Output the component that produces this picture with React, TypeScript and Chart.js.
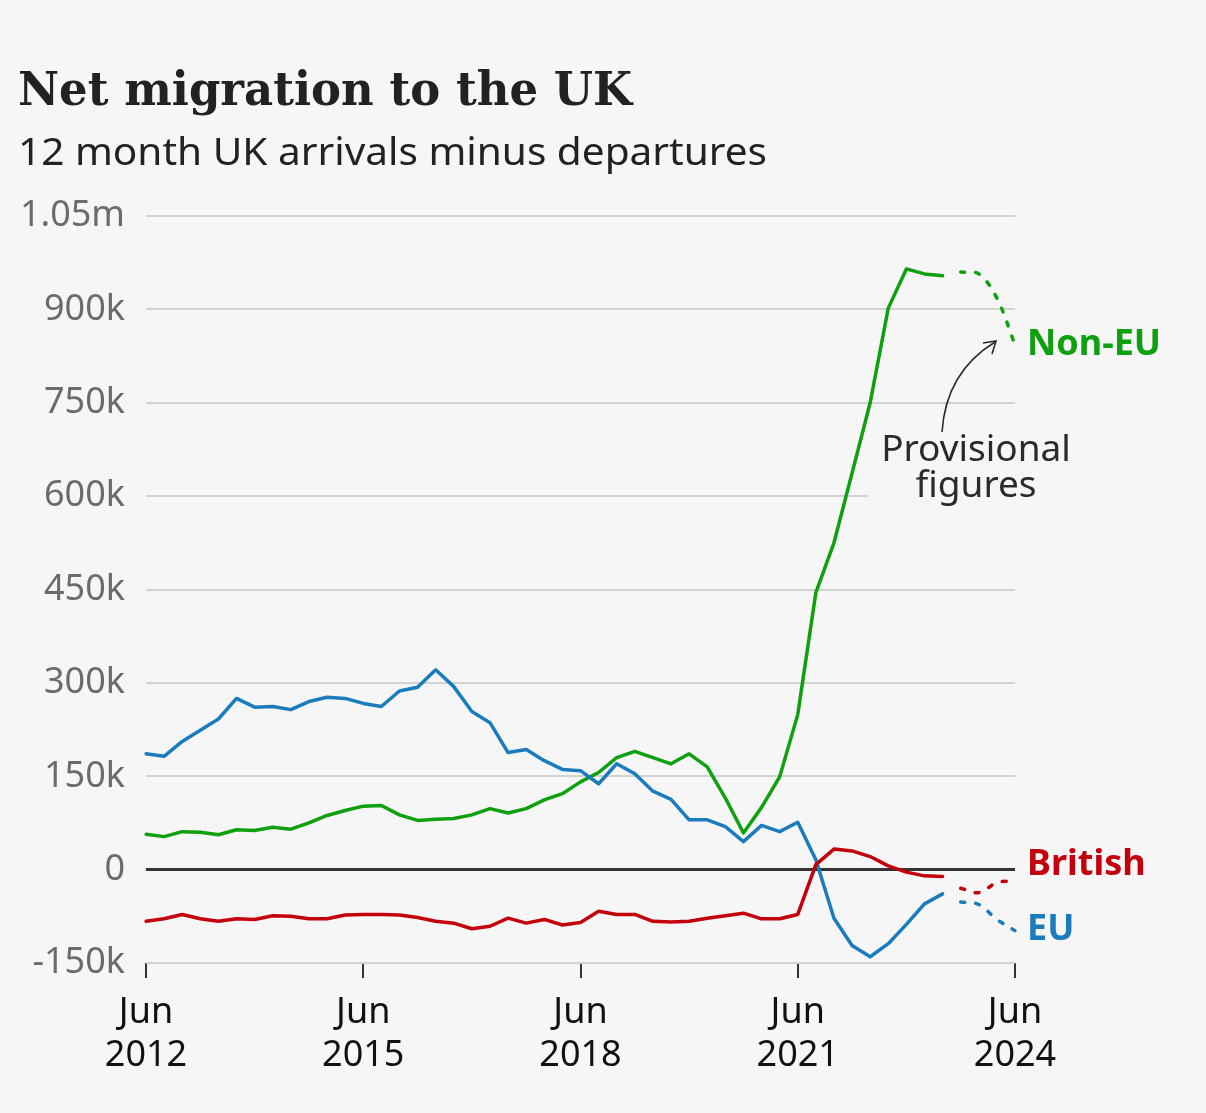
import React, { useEffect, useRef } from "react";
import { Chart, registerables } from "chart.js";

Chart.register(...registerables);

// Quarter labels (Jun 2012 .. Jun 2024)
const quarterMonths = ["Jun", "Sep", "Dec", "Mar"];
const tickYears = ["2012", "2015", "2018", "2021", "2024"];

// Net migration, thousands, quarterly Jun 2012 .. Jun 2023 (final figures)
const nonEU = [57, 53, 61, 60, 56, 64, 63, 68, 65, 75, 87, 95, 102, 103, 88, 79, 81, 82, 88, 98, 91, 98, 112, 122, 141, 156, 180, 190, 180, 170, 186, 165, 115, 59, 100, 149, 249, 445, 525, 637, 750, 902, 965, 957, 954];
const eu = [186, 182, 206, 224, 242, 275, 261, 262, 257, 270, 277, 275, 267, 262, 287, 293, 321, 294, 254, 236, 188, 193, 175, 161, 159, 138, 170, 154, 126, 113, 80, 80, 69, 45, 71, 61, 76, 16, -78, -122, -140, -119, -88, -55, -39];
const british = [-83, -79, -72, -79, -83, -79, -80, -74, -75, -79, -79, -73, -72, -72, -73, -77, -83, -86, -95, -91, -78, -86, -80, -89, -85, -67, -72, -72, -83, -84, -83, -78, -74, -70, -79, -79, -72, 8, 33, 30, 21, 6, -4, -10, -11];

// Provisional figures, Sep 2023 .. Jun 2024
const nonEUProv = [960, 957, 918, 843];
const euProv = [-52, -56, -80, -98];
const britishProv = [-30, -37, -21, -18];

const yTicks = [-150, 0, 150, 300, 450, 600, 750, 900, 1050];

const GREEN = "#0ea00e";
const BLUE = "#1a7bbd";
const RED = "#c4000c";
const BG = "#f6f6f6";

const labels: string[] = [];
{
  let year = 2012;
  for (let i = 0; i <= 48; i++) {
    const m = quarterMonths[i % 4];
    if (m === "Mar") year++;
    labels.push(m + " " + year);
  }
}

const solid = (arr: number[]) => arr.map((v) => v as number | null).concat(new Array(labels.length - arr.length).fill(null));
const prov = (arr: number[]) => new Array(labels.length - arr.length).fill(null).concat(arr);

const fmtY = (v: number) => {
  if (v === 0) return "0";
  if (Math.abs(v) >= 1000) return (v / 1000).toFixed(2) + "m";
  return v + "k";
};

const fitText = (ctx: CanvasRenderingContext2D, text: string, x: number, y: number, width: number) => {
  const w = ctx.measureText(text).width;
  ctx.save();
  ctx.translate(x, y);
  ctx.scale(width / w, 1);
  ctx.fillText(text, 0, 0);
  ctx.restore();
};

const decorPlugin = {
  id: "decor",
  beforeDatasetsDraw(chart: any) {
    const { ctx, scales } = chart;
    const y = scales.y.getPixelForValue(600);
    ctx.save();
    ctx.fillStyle = BG;
    ctx.fillRect(868, y - 4, 200, 8);
    ctx.restore();
  },
  afterDraw(chart: any) {
    const { ctx, scales } = chart;
    ctx.save();
    ctx.textBaseline = "alphabetic";
    ctx.textAlign = "left";
    ctx.fillStyle = "#222222";
    ctx.font = 'bold 47px "DejaVu Serif"';
    fitText(ctx, "Net migration to the UK", 18, 105, 614);
    ctx.font = '39px "Noto Sans"';
    fitText(ctx, "12 month UK arrivals minus departures", 18, 165, 749);

    // series labels
    ctx.font = 'bold 36px "Noto Sans"';
    ctx.textBaseline = "middle";
    ctx.fillStyle = GREEN;
    ctx.fillText("Non-EU", 1027, scales.y.getPixelForValue(843));
    ctx.fillStyle = RED;
    ctx.fillText("British", 1027, scales.y.getPixelForValue(8));
    ctx.fillStyle = BLUE;
    ctx.fillText("EU", 1027, scales.y.getPixelForValue(-96));

    // annotation
    ctx.fillStyle = "#2a2a2a";
    ctx.font = '37px "Noto Sans"';
    ctx.textAlign = "center";
    ctx.textBaseline = "alphabetic";
    ctx.fillText("Provisional", 976, 461);
    ctx.fillText("figures", 976, 497);

    ctx.strokeStyle = "#2a2a2a";
    ctx.lineWidth = 1.6;
    ctx.beginPath();
    ctx.moveTo(942, 432);
    ctx.quadraticCurveTo(946, 372, 995, 342);
    ctx.stroke();
    ctx.beginPath();
    ctx.moveTo(983, 343);
    ctx.lineTo(996, 341);
    ctx.lineTo(992, 354);
    ctx.stroke();
    ctx.restore();
  },
};

export default function App() {
  const ref = useRef<HTMLCanvasElement>(null);
  useEffect(() => {
    document.body.style.margin = "0";
    document.body.style.background = BG;
    if (!ref.current) return;
    const lineDs = (label: string, data: (number | null)[], color: string, dashed: boolean) => ({
      label,
      data,
      borderColor: color,
      backgroundColor: color,
      borderWidth: 3.5,
      pointRadius: 0,
      tension: dashed ? 0.35 : 0,
      borderDash: dashed ? [4, 11] : [],
      borderCapStyle: "round" as const,
      borderJoinStyle: "round" as const,
      spanGaps: false,
    });
    const chart = new Chart(ref.current, {
      type: "line",
      data: {
        labels,
        datasets: [
          lineDs("British", solid(british), RED, false),
          lineDs("British provisional", prov(britishProv), RED, true),
          lineDs("EU", solid(eu), BLUE, false),
          lineDs("EU provisional", prov(euProv), BLUE, true),
          lineDs("Non-EU", solid(nonEU), GREEN, false),
          lineDs("Non-EU provisional", prov(nonEUProv), GREEN, true),
        ],
      },
      options: {
        responsive: false,
        animation: false,
        devicePixelRatio: 1,
        layout: { padding: { top: 216, right: 191, bottom: 0, left: 0 } },
        plugins: { legend: { display: false }, tooltip: { enabled: false } },
        scales: {
          x: {
            type: "category",
            offset: false,
            afterFit: (s: any) => {
              s.height = 150;
            },
            border: { display: false },
            grid: {
              drawOnChartArea: false,
              drawTicks: true,
              tickLength: 15,
              color: "#333333",
              lineWidth: 2,
            },
            ticks: {
              autoSkip: false,
              maxRotation: 0,
              padding: 13,
              color: "#111111",
              font: { family: "Noto Sans", size: 36, lineHeight: 1.2 },
              callback: (_v: any, i: number) => (i % 12 === 0 ? ["Jun", tickYears[i / 12]] : null),
            },
          },
          y: {
            min: -150,
            max: 1050,
            afterFit: (s: any) => {
              s.width = 146;
            },
            afterBuildTicks: (s: any) => {
              s.ticks = yTicks.map((v) => ({ value: v }));
            },
            border: { display: false },
            grid: {
              drawTicks: false,
              color: (c: any) => (c.tick && c.tick.value === 0 ? "#333333" : "#d2d2d2"),
              lineWidth: (c: any) => (c.tick && c.tick.value === 0 ? 3 : 2),
            },
            ticks: {
              padding: 21,
              color: "#6b6b6b",
              font: { family: "Noto Sans", size: 36 },
              callback: (v: any) => fmtY(Number(v)),
            },
          },
        },
      },
      plugins: [decorPlugin],
    });
    return () => chart.destroy();
  }, []);
  return (
    <div style={{ width: 1206, height: 1113, background: BG }}>
      <canvas ref={ref} width={1206} height={1113} style={{ display: "block" }} />
    </div>
  );
}
